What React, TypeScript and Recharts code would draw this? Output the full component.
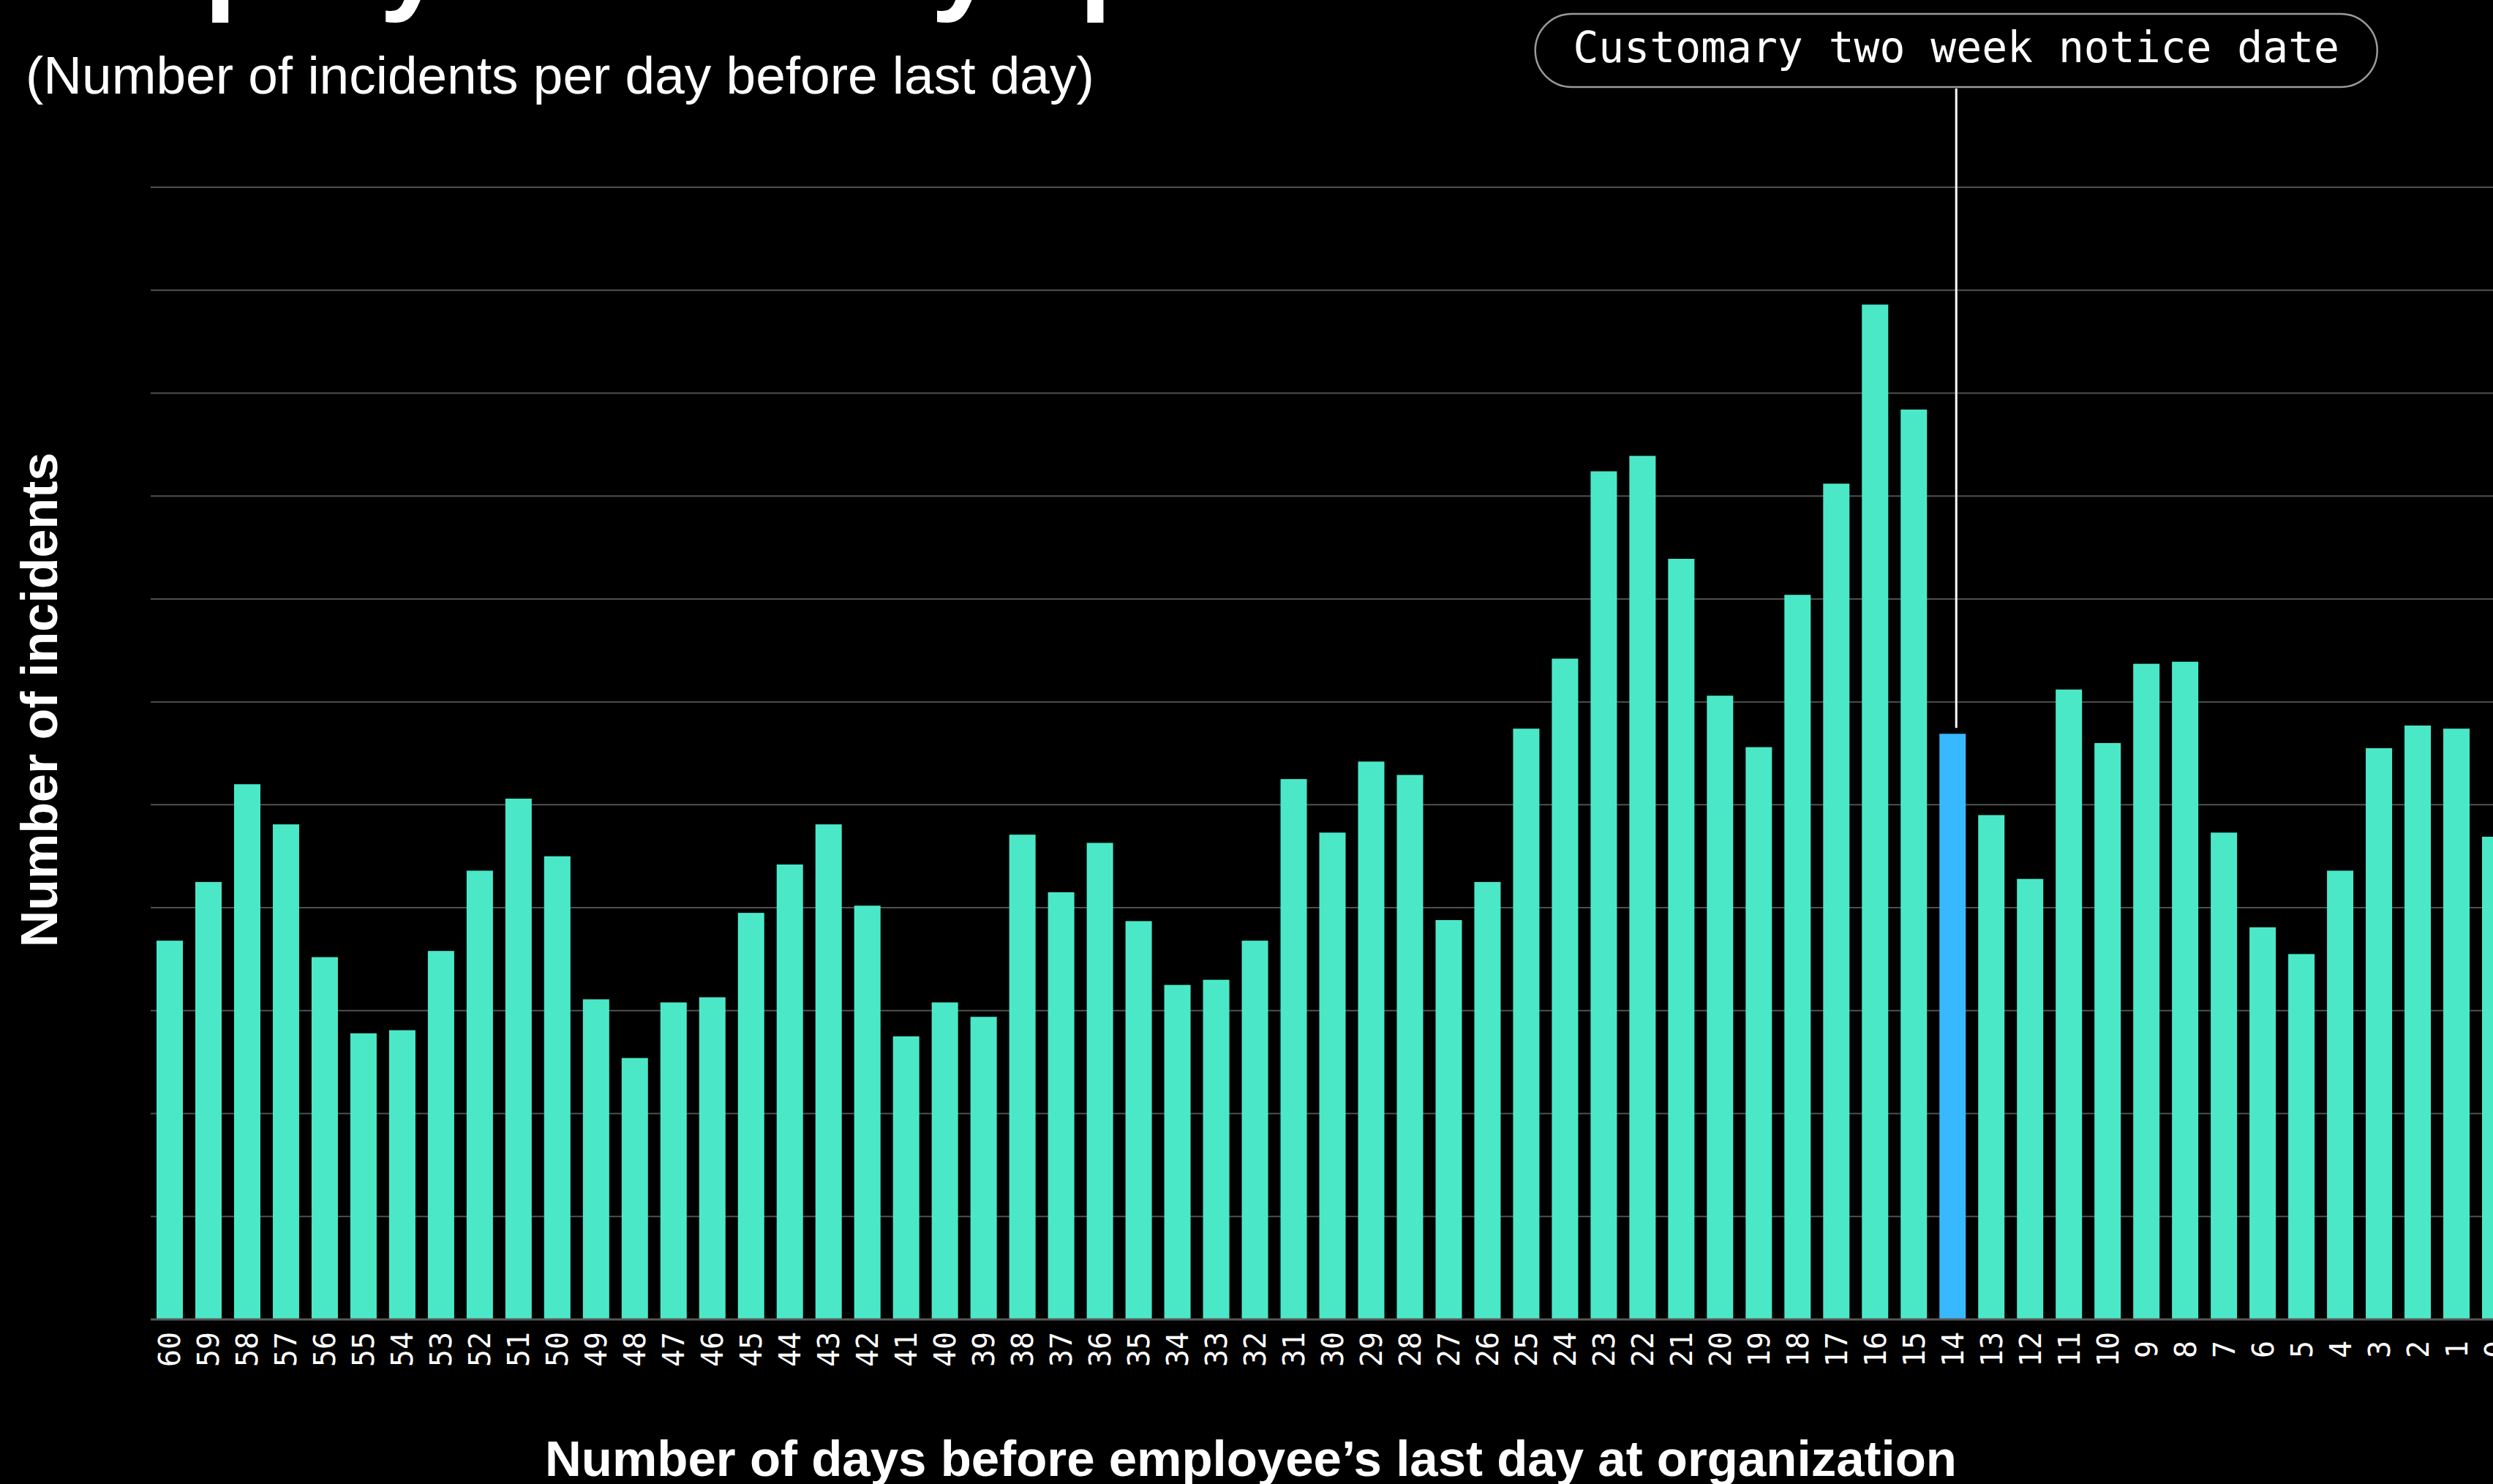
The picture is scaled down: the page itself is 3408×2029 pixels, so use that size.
import React from "react";
import { BarChart, Bar, XAxis, YAxis, CartesianGrid } from "recharts";

// Days before the employee's last day (categories, left to right)
const days = [
  "60", "59", "58", "57", "56", "55", "54", "53", "52", "51",
  "50", "49", "48", "47", "46", "45", "44", "43", "42", "41",
  "40", "39", "38", "37", "36", "35", "34", "33", "32", "31",
  "30", "29", "28", "27", "26", "25", "24", "23", "22", "21",
  "20", "19", "18", "17", "16", "15", "14", "13", "12", "11",
  "10", "9", "8", "7", "6", "5", "4", "3", "2", "1", "0",
];

// Number of incidents per day
const incidents = [
  36.8, 42.5, 52.0, 48.1, 35.2, 27.8, 28.1, 35.8, 43.6, 50.6,
  45.0, 31.1, 25.4, 30.8, 31.3, 39.5, 44.2, 48.1, 40.2, 27.5,
  30.8, 29.4, 47.1, 41.5, 46.3, 38.7, 32.5, 33.0, 36.8, 52.5,
  47.3, 54.2, 52.9, 38.8, 42.5, 57.4, 64.2, 82.4, 83.9, 73.9,
  60.6, 55.6, 70.4, 81.2, 98.6, 88.4, 56.9, 49.0, 42.8, 61.2,
  56.0, 63.7, 63.9, 47.3, 38.1, 35.5, 43.6, 55.5, 57.7, 57.4, 46.9,
];

const yTicks = [0, 10, 20, 30, 40, 50, 60, 70, 80, 90, 100, 110];
const highlightDay = "14";
const annotationText = "Customary two week notice date";

const titleText = "Employee activity spikes";
const subtitleText = "(Number of incidents per day before last day)";
const yAxisTitle = "Number of incidents";
const xAxisTitle = "Number of days before employee\u2019s last day at organization";

const data = days.map((day, i) => ({ day, incidents: incidents[i] }));

const BAR_COLOR = "#4BE8C8";
const HIGHLIGHT_COLOR = "#38B8FF";
const SANS = "'Liberation Sans', Arial, sans-serif";
const MONO = "'DejaVu Sans Mono', 'Liberation Mono', monospace";

function DayTick(props: any) {
  const { x, y, payload } = props;
  const cy = y + 41;
  return (
    <text
      x={x}
      y={cy}
      transform={`rotate(-90 ${x} ${cy})`}
      textAnchor="middle"
      dominantBaseline="central"
      fontFamily={MONO}
      fontSize={40}
      fill="#ffffff"
    >
      {payload.value}
    </text>
  );
}

function AnnotatedBar(props: any) {
  const { x, y, width, height, payload } = props;
  const isKey = payload && payload.day === highlightDay;
  const fill = isKey ? HIGHLIGHT_COLOR : BAR_COLOR;
  if (!isKey) {
    return <rect x={x} y={y} width={width} height={height} fill={fill} />;
  }
  const cx = x + width / 2 + 5;
  const pillW = 1151;
  return (
    <g>
      <rect x={x} y={y} width={width} height={height} fill={fill} />
      <line x1={cx} y1={121} x2={cx} y2={y - 8} stroke="#ffffff" strokeWidth={3} />
      <rect
        x={cx - pillW / 2}
        y={19}
        width={pillW}
        height={100}
        rx={50}
        ry={50}
        fill="#000000"
        stroke="#9a9a9a"
        strokeWidth={2.5}
      />
      <text
        x={cx}
        y={85}
        textAnchor="middle"
        fontFamily={MONO}
        fontSize={58}
        fill="#ffffff"
      >
        {annotationText}
      </text>
    </g>
  );
}

export default function App() {
  return (
    <div
      style={{
        position: "relative",
        width: 3408,
        height: 2029,
        overflow: "hidden",
        background: "#000000",
      }}
    >
      <style>{`html,body{margin:0;padding:0;background:#000;overflow:hidden;}`}</style>
      <BarChart
        width={3440}
        height={2029}
        data={data}
        margin={{ top: 256, right: 2, bottom: 0, left: 206 }}
        barSize={36}
      >
        <CartesianGrid vertical={false} stroke="#505050" strokeWidth={2} />
        <XAxis
          dataKey="day"
          interval={0}
          height={225}
          tickLine={false}
          tickSize={0}
          tickMargin={0}
          axisLine={{ stroke: "#585858", strokeWidth: 3 }}
          tick={<DayTick />}
        />
        <YAxis hide width={0} domain={[0, 110]} ticks={yTicks} />
        <Bar
          dataKey="incidents"
          isAnimationActive={false}
          fill={BAR_COLOR}
          shape={(p: any) => <AnnotatedBar {...p} />}
        />
      </BarChart>
      <svg
        width={3408}
        height={2029}
        style={{ position: "absolute", left: 0, top: 0, pointerEvents: "none" }}
      >
        <text
          x={30}
          y={-2}
          fontFamily={SANS}
          fontWeight={700}
          fontSize={160}
          wordSpacing={-20}
          fill="#ffffff"
        >
          {titleText}
        </text>
        <text x={35} y={128} fontFamily={SANS} fontSize={73} fill="#ffffff">
          {subtitleText}
        </text>
        <text
          x={78}
          y={957}
          transform="rotate(-90 78 957)"
          textAnchor="middle"
          fontFamily={SANS}
          fontWeight={700}
          fontSize={70}
          fill="#ffffff"
        >
          {yAxisTitle}
        </text>
        <text
          x={1710}
          y={2018}
          textAnchor="middle"
          fontFamily={SANS}
          fontWeight={700}
          fontSize={69}
          fill="#ffffff"
        >
          {xAxisTitle}
        </text>
      </svg>
    </div>
  );
}
